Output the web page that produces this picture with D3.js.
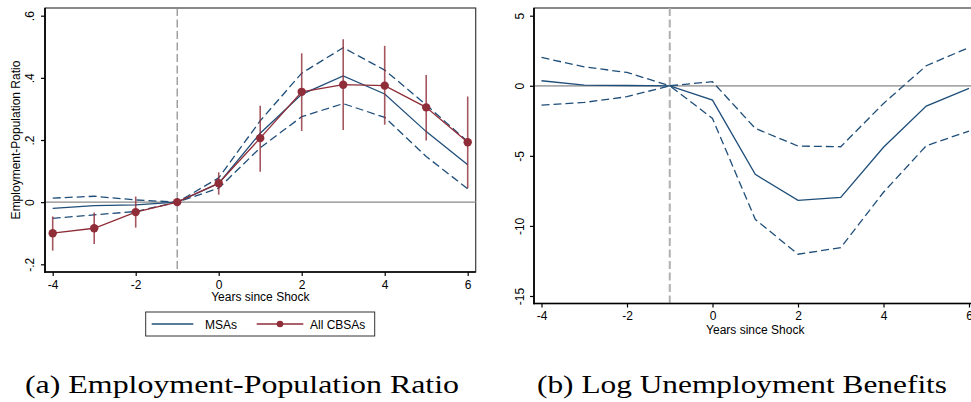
<!DOCTYPE html>
<html>
<head>
<meta charset="utf-8">
<script src="https://d3js.org/d3.v7.min.js"></script>
<style>
  body, html { margin: 0; padding: 0; background: #fff; }
  svg { display: block; font-family: "Liberation Sans", Arial, Helvetica, sans-serif; }
  .tick text { font-family: "Liberation Sans", Arial, Helvetica, sans-serif; font-size: 12px; fill: #000; }
  .caption { font-family: "Liberation Serif", "DejaVu Serif", serif; font-size: 25px; fill: #000; }
</style>
</head>
<body>
<div id="chart"></div>
<script>

// ---- data ----
const years = [-4, -3, -2, -1, 0, 1, 2, 3, 4, 5, 6];

// (a) employment-population ratio
const msaEmp   = [-0.020, -0.011, -0.009, 0, 0.060, 0.222, 0.347, 0.406, 0.348, 0.227, 0.120];
const msaEmpHi = [0.013, 0.019, 0.007, 0, 0.078, 0.262, 0.415, 0.497, 0.425, 0.313, 0.195];
const msaEmpLo = [-0.052, -0.041, -0.030, 0, 0.045, 0.175, 0.275, 0.317, 0.273, 0.147, 0.043];
const cbsaEmp   = [-0.100, -0.084, -0.032, 0, 0.061, 0.206, 0.355, 0.378, 0.375, 0.305, 0.193];
const cbsaEmpHi = [-0.046, -0.033, 0.018, 0, 0.096, 0.310, 0.479, 0.524, 0.503, 0.409, 0.340];
const cbsaEmpLo = [-0.156, -0.135, -0.082, 0, 0.024, 0.098, 0.229, 0.232, 0.249, 0.198, 0.045];

// (b) log unemployment benefits
const msaUb   = [0.36, 0.05, 0.02, 0, -1.02, -6.32, -8.17, -7.96, -4.39, -1.45, -0.19];
const msaUbHi = [2.02, 1.35, 0.95, 0, 0.29, -3.04, -4.30, -4.35, -1.26, 1.43, 2.73];
const msaUbLo = [-1.38, -1.19, -0.78, 0, -2.33, -9.53, -12.02, -11.55, -7.60, -4.28, -3.23];

const xTicks = [-4, -2, 0, 2, 4, 6];
const xTickLabels = ["-4", "-2", "0", "2", "4", "6"];
const empTicks = [-0.2, 0, 0.2, 0.4, 0.6];
const empTickLabels = ["-.2", "0", ".2", ".4", ".6"];
const ubTicks = [-15, -10, -5, 0, 5];
const ubTickLabels = ["-15", "-10", "-5", "0", "5"];
const shockYear = -1;

const seriesNames = ["MSAs", "All CBSAs"];
const captions = ["(a) Employment-Population Ratio", "(b) Log Unemployment Benefits"];

// ---- canvas ----
const width = 971, height = 402;
const blue = "#1f4e79", red = "#8f2d38";

const svg = d3.select("#chart").append("svg")
    .attr("width", width)
    .attr("height", height);

function drawPanel(cfg) {
    const f = cfg.frame;
    const g = svg.append("g");

    const x = d3.scaleLinear().domain([-4, 6]).range(cfg.xRange);
    const y = d3.scaleLinear().domain(cfg.yDomain).range(cfg.yRange);

    // plot region outline
    g.append("rect")
        .attr("x", f.l).attr("y", f.t)
        .attr("width", f.r - f.l).attr("height", f.b - f.t)
        .attr("fill", "none").attr("stroke", "#3a3a3a").attr("stroke-width", 1.2);

    // reference lines
    g.append("line")
        .attr("x1", f.l).attr("x2", f.r)
        .attr("y1", y(0)).attr("y2", y(0))
        .attr("stroke", cfg.zeroColor).attr("stroke-width", cfg.zeroWidth);
    g.append("line")
        .attr("x1", x(shockYear)).attr("x2", x(shockYear))
        .attr("y1", f.t).attr("y2", f.b)
        .attr("stroke", cfg.vColor).attr("stroke-width", cfg.vWidth)
        .attr("stroke-dasharray", "8 3.5");

    // axes
    const xAxis = g.append("g")
        .attr("transform", `translate(0,${f.b})`)
        .call(d3.axisBottom(x).tickValues(xTicks).tickSize(4).tickSizeOuter(0).tickPadding(4)
            .tickFormat((d, i) => xTickLabels[i]));
    xAxis.select(".domain").remove();
    xAxis.selectAll(".tick line").attr("stroke", "#000").attr("stroke-width", 1.2);

    const yAxis = g.append("g")
        .attr("transform", `translate(${f.l},0)`)
        .call(d3.axisLeft(y).tickValues(cfg.yTicks).tickSize(4).tickSizeOuter(0)
            .tickFormat((d, i) => cfg.yTickLabels[i]));
    yAxis.select(".domain").remove();
    yAxis.selectAll(".tick line").attr("stroke", "#000").attr("stroke-width", 1.2);
    yAxis.selectAll(".tick text")
        .attr("x", null).attr("dy", null)
        .attr("text-anchor", "middle")
        .attr("transform", `translate(${-cfg.yLabelOff},0) rotate(-90)`);

    // black axis lines
    g.append("line").attr("x1", f.l).attr("x2", f.l).attr("y1", f.t).attr("y2", f.b + 0.8)
        .attr("stroke", "#000").attr("stroke-width", 1.7);
    g.append("line").attr("x1", f.l - 0.8).attr("x2", f.r).attr("y1", f.b).attr("y2", f.b)
        .attr("stroke", "#000").attr("stroke-width", 1.7);

    // axis titles
    g.append("text")
        .attr("x", (f.l + f.r) / 2).attr("y", cfg.xTitleY)
        .attr("text-anchor", "middle").attr("font-size", 12)
        .text("Years since Shock");
    if (cfg.yTitle) {
        g.append("text")
            .attr("transform", `translate(${cfg.yTitleX},${(f.t + f.b) / 2}) rotate(-90)`)
            .attr("text-anchor", "middle").attr("font-size", 12)
            .text(cfg.yTitle);
    }

    return {g, x, y};
}

function addLine(p, vals, color, dash, w) {
    const line = d3.line().x((d, i) => p.x(years[i])).y(d => p.y(d));
    p.g.append("path")
        .datum(vals)
        .attr("d", line)
        .attr("fill", "none")
        .attr("stroke", color)
        .attr("stroke-width", w)
        .attr("stroke-dasharray", dash);
}

// ---- panel (a) ----
const pa = drawPanel({
    frame: {l: 45, r: 475.7, t: 8, b: 272},
    xRange: [52.7, 467.7],
    yDomain: [-0.2, 0.6], yRange: [264.3, 15.7],
    yTicks: empTicks, yTickLabels: empTickLabels,
    yLabelOff: 11.5,
    zeroColor: "#8a8a8a", zeroWidth: 1.2,
    vColor: "#8a8a8a", vWidth: 1.2,
    xTitleY: 301,
    yTitle: "Employment-Population Ratio", yTitleX: 20
});

addLine(pa, msaEmpHi, blue, "8 4", 1.3);
addLine(pa, msaEmpLo, blue, "8 4", 1.3);
addLine(pa, msaEmp, blue, null, 1.3);

// CBSA confidence bars
pa.g.append("g").selectAll("line")
    .data(years)
    .join("line")
    .attr("x1", d => pa.x(d)).attr("x2", d => pa.x(d))
    .attr("y1", (d, i) => pa.y(cbsaEmpHi[i]))
    .attr("y2", (d, i) => pa.y(cbsaEmpLo[i]))
    .attr("stroke", red).attr("stroke-width", 1.6).attr("stroke-opacity", 0.8);

addLine(pa, cbsaEmp, red, null, 1.3);

pa.g.append("g").selectAll("circle")
    .data(years)
    .join("circle")
    .attr("cx", d => pa.x(d))
    .attr("cy", (d, i) => pa.y(cbsaEmp[i]))
    .attr("r", 4.2)
    .attr("fill", red);

// legend
const legend = svg.append("g");
legend.append("rect")
    .attr("x", 145.7).attr("y", 312).attr("width", 229).attr("height", 24)
    .attr("fill", "#fff").attr("stroke", "#333").attr("stroke-width", 1);
legend.append("line")
    .attr("x1", 151.7).attr("x2", 193.3).attr("y1", 324).attr("y2", 324)
    .attr("stroke", blue).attr("stroke-width", 1.3);
legend.append("text")
    .attr("x", 205).attr("y", 328.5).attr("font-size", 12)
    .text(seriesNames[0]);
legend.append("line")
    .attr("x1", 256.7).attr("x2", 303.3).attr("y1", 324).attr("y2", 324)
    .attr("stroke", red).attr("stroke-width", 1.3);
legend.append("circle")
    .attr("cx", 280).attr("cy", 324).attr("r", 3.3).attr("fill", red);
legend.append("text")
    .attr("x", 310).attr("y", 328.5).attr("font-size", 12)
    .text(seriesNames[1]);

// ---- panel (b) ----
const pb = drawPanel({
    frame: {l: 534, r: 976.5, t: 8, b: 303.5},
    xRange: [541.5, 969],
    yDomain: [-15, 5], yRange: [296, 15.7],
    yTicks: ubTicks, yTickLabels: ubTickLabels,
    yLabelOff: 10,
    zeroColor: "#a8a8a8", zeroWidth: 1.8,
    vColor: "#b0b0b0", vWidth: 2,
    xTitleY: 334,
    yTitle: null
});

addLine(pb, msaUbHi, blue, "8 4", 1.3);
addLine(pb, msaUbLo, blue, "8 4", 1.3);
addLine(pb, msaUb, blue, null, 1.3);

// ---- captions ----
svg.append("text")
    .attr("class", "caption")
    .attr("x", 25).attr("y", 393)
    .attr("textLength", 434).attr("lengthAdjust", "spacingAndGlyphs")
    .text(captions[0]);
svg.append("text")
    .attr("class", "caption")
    .attr("x", 537).attr("y", 393)
    .attr("textLength", 410).attr("lengthAdjust", "spacingAndGlyphs")
    .text(captions[1]);

</script>
</body>
</html>
